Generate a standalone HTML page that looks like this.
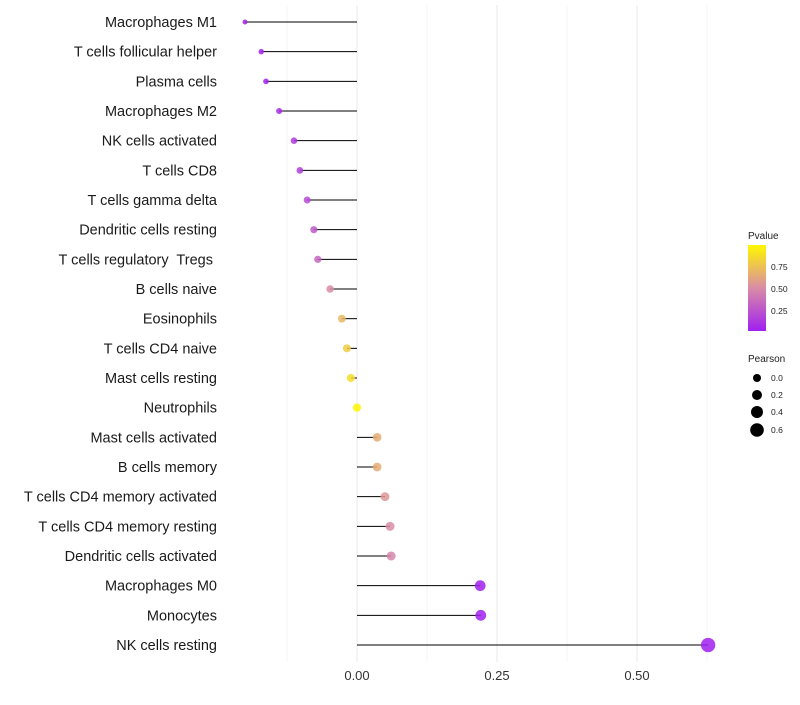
<!DOCTYPE html>
<html><head><meta charset="utf-8"><style>
body{margin:0;background:#fff;font-family:"Liberation Sans",sans-serif}
text{white-space:pre}
</style></head><body>
<svg id="chart" width="800" height="700" xmlns="http://www.w3.org/2000/svg" font-family="Liberation Sans, sans-serif">
<defs><linearGradient id="pg" x1="0" y1="1" x2="0" y2="0">
<stop offset="0" stop-color="#a020f0"/><stop offset="0.5" stop-color="#d98ca6"/><stop offset="1" stop-color="#fff700"/></linearGradient></defs>
<g id="grid"></g><g id="marks"></g><g id="ylab"></g><g id="xlab"></g>
<g>
<text x="748" y="239" font-size="10" fill="#222">Pvalue</text>
<rect x="748" y="245" width="18" height="86" fill="url(#pg)"/>
<text x="771" y="270" font-size="8.5" fill="#222">0.75</text>
<text x="771" y="292" font-size="8.5" fill="#222">0.50</text>
<text x="771" y="314" font-size="8.5" fill="#222">0.25</text>
</g>
<g>
<text x="748" y="362" font-size="10" fill="#222">Pearson</text>
<circle cx="757" cy="378" r="4"/><text x="771" y="381" font-size="8.5" fill="#222">0.0</text>
<circle cx="757" cy="395" r="5"/><text x="771" y="398" font-size="8.5" fill="#222">0.2</text>
<circle cx="757" cy="412" r="6"/><text x="771" y="415" font-size="8.5" fill="#222">0.4</text>
<circle cx="757" cy="430" r="6.8"/><text x="771" y="433" font-size="8.5" fill="#222">0.6</text>
</g>
</svg>
<script>
const categories=["Macrophages M1","T cells follicular helper","Plasma cells","Macrophages M2","NK cells activated","T cells CD8","T cells gamma delta","Dendritic cells resting","T cells regulatory  Tregs ","B cells naive","Eosinophils","T cells CD4 naive","Mast cells resting","Neutrophils","Mast cells activated","B cells memory","T cells CD4 memory activated","T cells CD4 memory resting","Dendritic cells activated","Macrophages M0","Monocytes","NK cells resting"];
const pearson=[-0.2,-0.171,-0.1625,-0.139,-0.1125,-0.102,-0.089,-0.077,-0.07,-0.048,-0.027,-0.018,-0.011,0.0,0.036,0.036,0.05,0.059,0.061,0.22,0.221,0.627];
const pvalue=[0.003,0.01,0.02,0.05,0.12,0.15,0.2,0.27,0.32,0.5,0.7,0.8,0.88,1.0,0.65,0.65,0.55,0.5,0.47,0.001,0.001,0.0];
const xTicks=[0,0.25,0.5];
const xTickLabels=["0.00","0.25","0.50"];
const NS="http://www.w3.org/2000/svg";
const X=v=>357+v*560;
const Y=i=>22+i*(623/21);
function mk(t,a,p){const e=document.createElementNS(NS,t);for(const k in a)e.setAttribute(k,a[k]);p.appendChild(e);return e;}
function col(p){const s=[[160,32,240],[217,140,166],[255,247,0]];let t=p*2,i=t>=1?1:0;t-=i;if(t>1)t=1;const a=s[i],b=s[i+1];return `rgb(${a.map((c,k)=>Math.round(c+(b[k]-c)*t)).join(',')})`;}
const grid=document.getElementById('grid'),marks=document.getElementById('marks'),yl=document.getElementById('ylab'),xl=document.getElementById('xlab');
[-0.125,0.125,0.375,0.625].forEach(v=>{const l=mk('line',{x1:X(v),x2:X(v),y1:5,y2:662,stroke:'#f0f0f0','stroke-width':0.6},grid);

});
xTicks.forEach((v,i)=>{const l=mk('line',{x1:X(v),x2:X(v),y1:5,y2:662,stroke:'#ebebeb','stroke-width':1.1},grid);


const t=mk('text',{x:X(v),y:680,'font-size':13,'text-anchor':'middle',fill:'#333'},xl);t.textContent=xTickLabels[i];

});
categories.forEach((c,i)=>{const y=Y(i);
const t=mk('text',{x:217,y:y+5,'font-size':14.5,'text-anchor':'end',fill:'#1a1a1a'},yl);t.textContent=c;


const l=mk('line',{x1:X(0),x2:X(pearson[i]),y1:y,y2:y,stroke:'#000','stroke-width':1},marks);


const r=Math.sqrt(Math.max(2.5,17+55*pearson[i]));
const d=mk('circle',{cx:X(pearson[i]),cy:y,r:r,fill:col(pvalue[i]),'fill-opacity':0.85},marks);

});
</script>
</body></html>
